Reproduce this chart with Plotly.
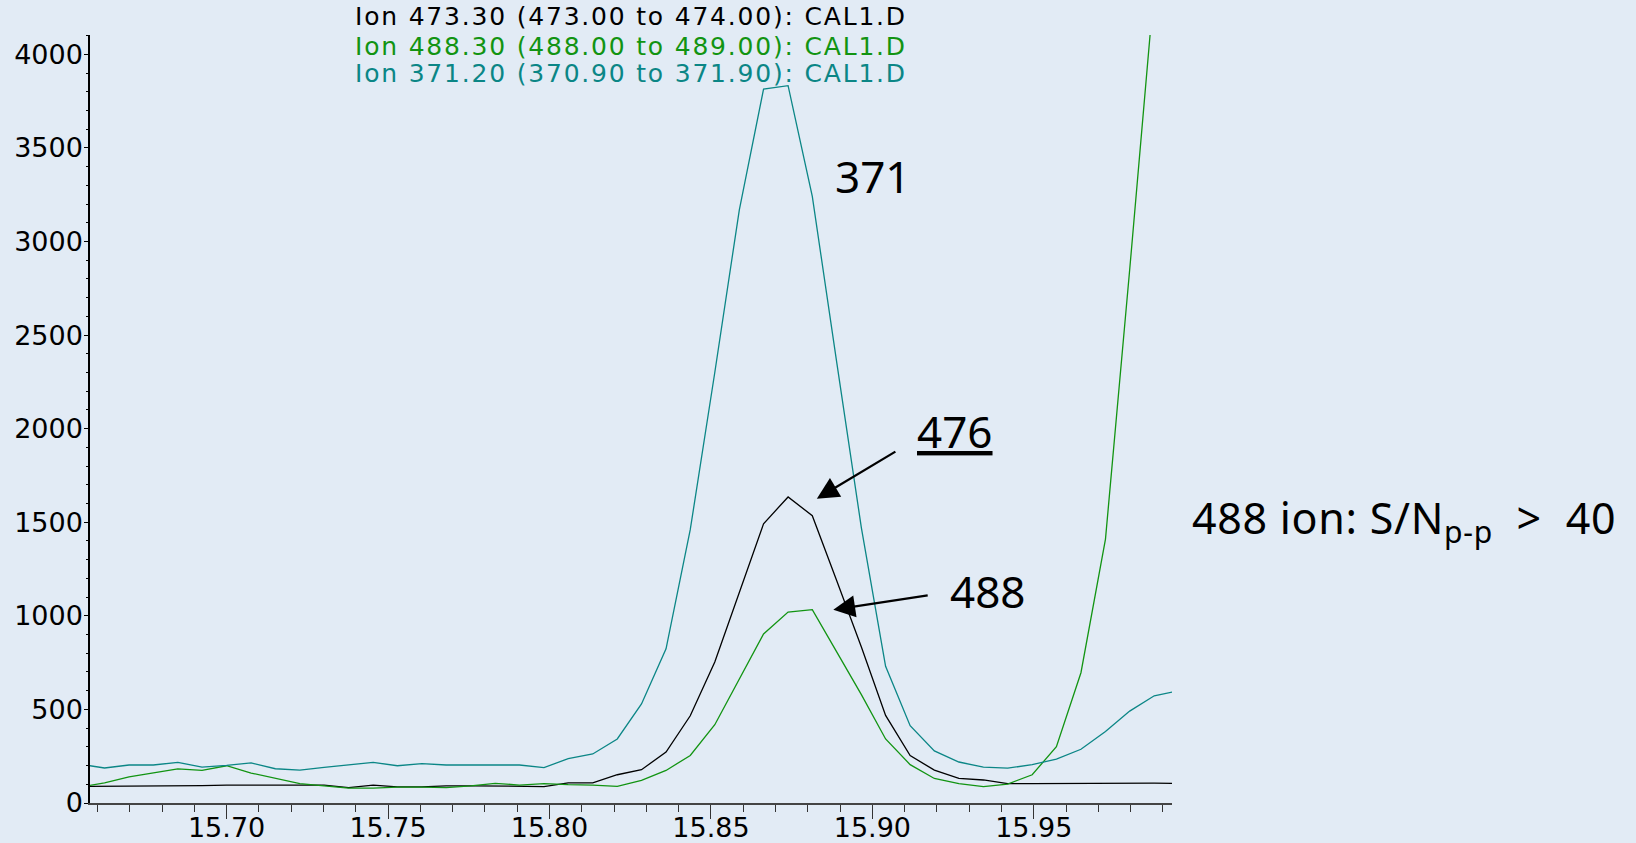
import plotly.graph_objects as go

# Retention time (min)
time_min = [15.6546, 15.6622, 15.6698, 15.6773, 15.6849, 15.6924, 15.7000, 15.7076,
            15.7151, 15.7227, 15.7302, 15.7378, 15.7454, 15.7529, 15.7605, 15.7680,
            15.7756, 15.7832, 15.7907, 15.7983, 15.8058, 15.8134, 15.8210, 15.8285,
            15.8361, 15.8436, 15.8512, 15.8588, 15.8663, 15.8739, 15.8814, 15.8890,
            15.8966, 15.9041, 15.9117, 15.9192, 15.9268, 15.9344, 15.9419, 15.9495,
            15.9570, 15.9646, 15.9722, 15.9797, 15.9873, 15.9948]

ion_473 = [89, 89, 90, 91, 92, 93, 95, 96, 97, 95, 95, 82, 95, 86, 86, 91,
           92, 91, 88, 88, 107, 108, 151, 178, 272, 466, 753, 1120, 1492, 1635,
           1535, 1186, 833, 468, 253, 176, 131, 123, 104, 103, 104, 104, 105,
           105, 106, 104]

ion_488 = [85, 107, 139, 160, 182, 174, 199, 160, 132, 103, 92, 80, 80, 85, 85, 82,
           92, 105, 96, 103, 98, 96, 89, 121, 174, 254, 418, 659, 903, 1020,
           1033, 806, 579, 342, 205, 131, 104, 88, 101, 151, 301, 696, 1410,
           2850, 4360, 5600]

ion_371 = [207, 187, 203, 203, 217, 192, 201, 214, 183, 176, 190, 205, 217, 199, 210, 203,
           203, 203, 203, 189, 237, 262, 342, 529, 824, 1460, 2300, 3169, 3814, 3832,
           3241, 2350, 1470, 730, 413, 278, 219, 192, 186, 205, 235, 287, 382,
           491, 573, 599]

legend_labels = ["Ion 473.30 (473.00 to 474.00): CAL1.D",
                 "Ion 488.30 (488.00 to 489.00): CAL1.D",
                 "Ion 371.20 (370.90 to 371.90): CAL1.D"]
x_ticks = [15.70, 15.75, 15.80, 15.85, 15.90, 15.95]

BLACK = "#000000"
GREEN = "#129412"
TEAL = "#0b8686"

fig = go.Figure()
for y, c in [(ion_473, BLACK), (ion_488, GREEN), (ion_371, TEAL)]:
    fig.add_trace(go.Scatter(x=time_min, y=y, mode="lines",
                             line=dict(color=c, width=1.3), showlegend=False,
                             hoverinfo="skip"))

W, H = 1636, 843
L, R, T, B = 90, 464, 35, 40

fig.update_layout(
    width=W, height=H,
    margin=dict(l=L, r=R, t=T, b=B, autoexpand=False),
    paper_bgcolor="#e2ebf5", plot_bgcolor="rgba(0,0,0,0)",
    showlegend=False,
)
fig.update_xaxes(
    range=[15.6577, 15.9928], tickvals=x_ticks, tickformat=".2f",
    ticks="outside", ticklen=14, tickwidth=1.3, tickcolor="#333333",
    minor=dict(dtick=0.01, tick0=15.70, ticks="outside", ticklen=7,
               tickwidth=1.2, tickcolor="#333333"),
    showline=True, linecolor="#444444", linewidth=1.5,
    showgrid=False, zeroline=False, automargin=False,
    ticklabelstandoff=-14,
    tickfont=dict(family="DejaVu Sans", size=27, color="#000000"),
)
fig.update_yaxes(
    range=[0, 4103], dtick=500, tick0=0,
    ticks="outside", ticklen=4, tickwidth=1.2, tickcolor="#000000",
    minor=dict(dtick=100, ticks="outside", ticklen=2, tickwidth=1,
               tickcolor="#000000"),
    showline=True, linecolor="#000000", linewidth=1.5,
    showgrid=False, zeroline=False, automargin=False,
    ticklabelstandoff=-4,
    tickfont=dict(family="DejaVu Sans", size=27, color="#000000"),
)

# legend-like header texts
for lbl, col, yp in zip(legend_labels, [BLACK, GREEN, TEAL], [1.0235, 0.9853, 0.9500]):
    fig.add_annotation(xref="paper", yref="paper", x=0.2431, y=yp,
                       xanchor="left", yanchor="middle", showarrow=False,
                       text='<span style="letter-spacing:1.8px">' + lbl + "</span>",
                       font=dict(family="DejaVu Sans", size=25, color=col))

ann_font = dict(family="Noto Sans", size=44, color="#000000")
fig.add_annotation(x=15.9003, y=3352, xref="x", yref="y", text="371",
                   showarrow=False, font=ann_font, xanchor="center", yanchor="middle")
fig.add_annotation(x=15.9256, y=1985, xref="x", yref="y", text="<u>476</u>",
                   showarrow=False, font=ann_font, xanchor="center", yanchor="middle")
fig.add_annotation(x=15.9357, y=1134, xref="x", yref="y", text="488",
                   showarrow=False, font=ann_font, xanchor="center", yanchor="middle")

# arrows
fig.add_annotation(x=15.8828, y=1626, ax=15.9076, ay=1882, xref="x", yref="y",
                   axref="x", ayref="y", text="", showarrow=True, arrowhead=2,
                   arrowsize=1.9, arrowwidth=2.3, arrowcolor="#000000")
fig.add_annotation(x=15.8879, y=1033, ax=15.9176, ay=1111, xref="x", yref="y",
                   axref="x", ayref="y", text="", showarrow=True, arrowhead=2,
                   arrowsize=1.9, arrowwidth=2.3, arrowcolor="#000000")

fig.add_annotation(xref="paper", yref="paper", x=1.0169, y=0.369,
                   xanchor="left", yanchor="middle", showarrow=False,
                   text='<span style="letter-spacing:0.7px">488 ion: S/N<sub>p-p</sub>'
                        '&nbsp;&nbsp;&gt;&nbsp;&nbsp;40</span>',
                   font=dict(family="Noto Sans", size=43, color="#000000"))

fig.write_html(
    "out.html",
    config={"displayModeBar": False},
    post_script="document.body.style.margin='0px';document.body.style.overflow='hidden';",
)
